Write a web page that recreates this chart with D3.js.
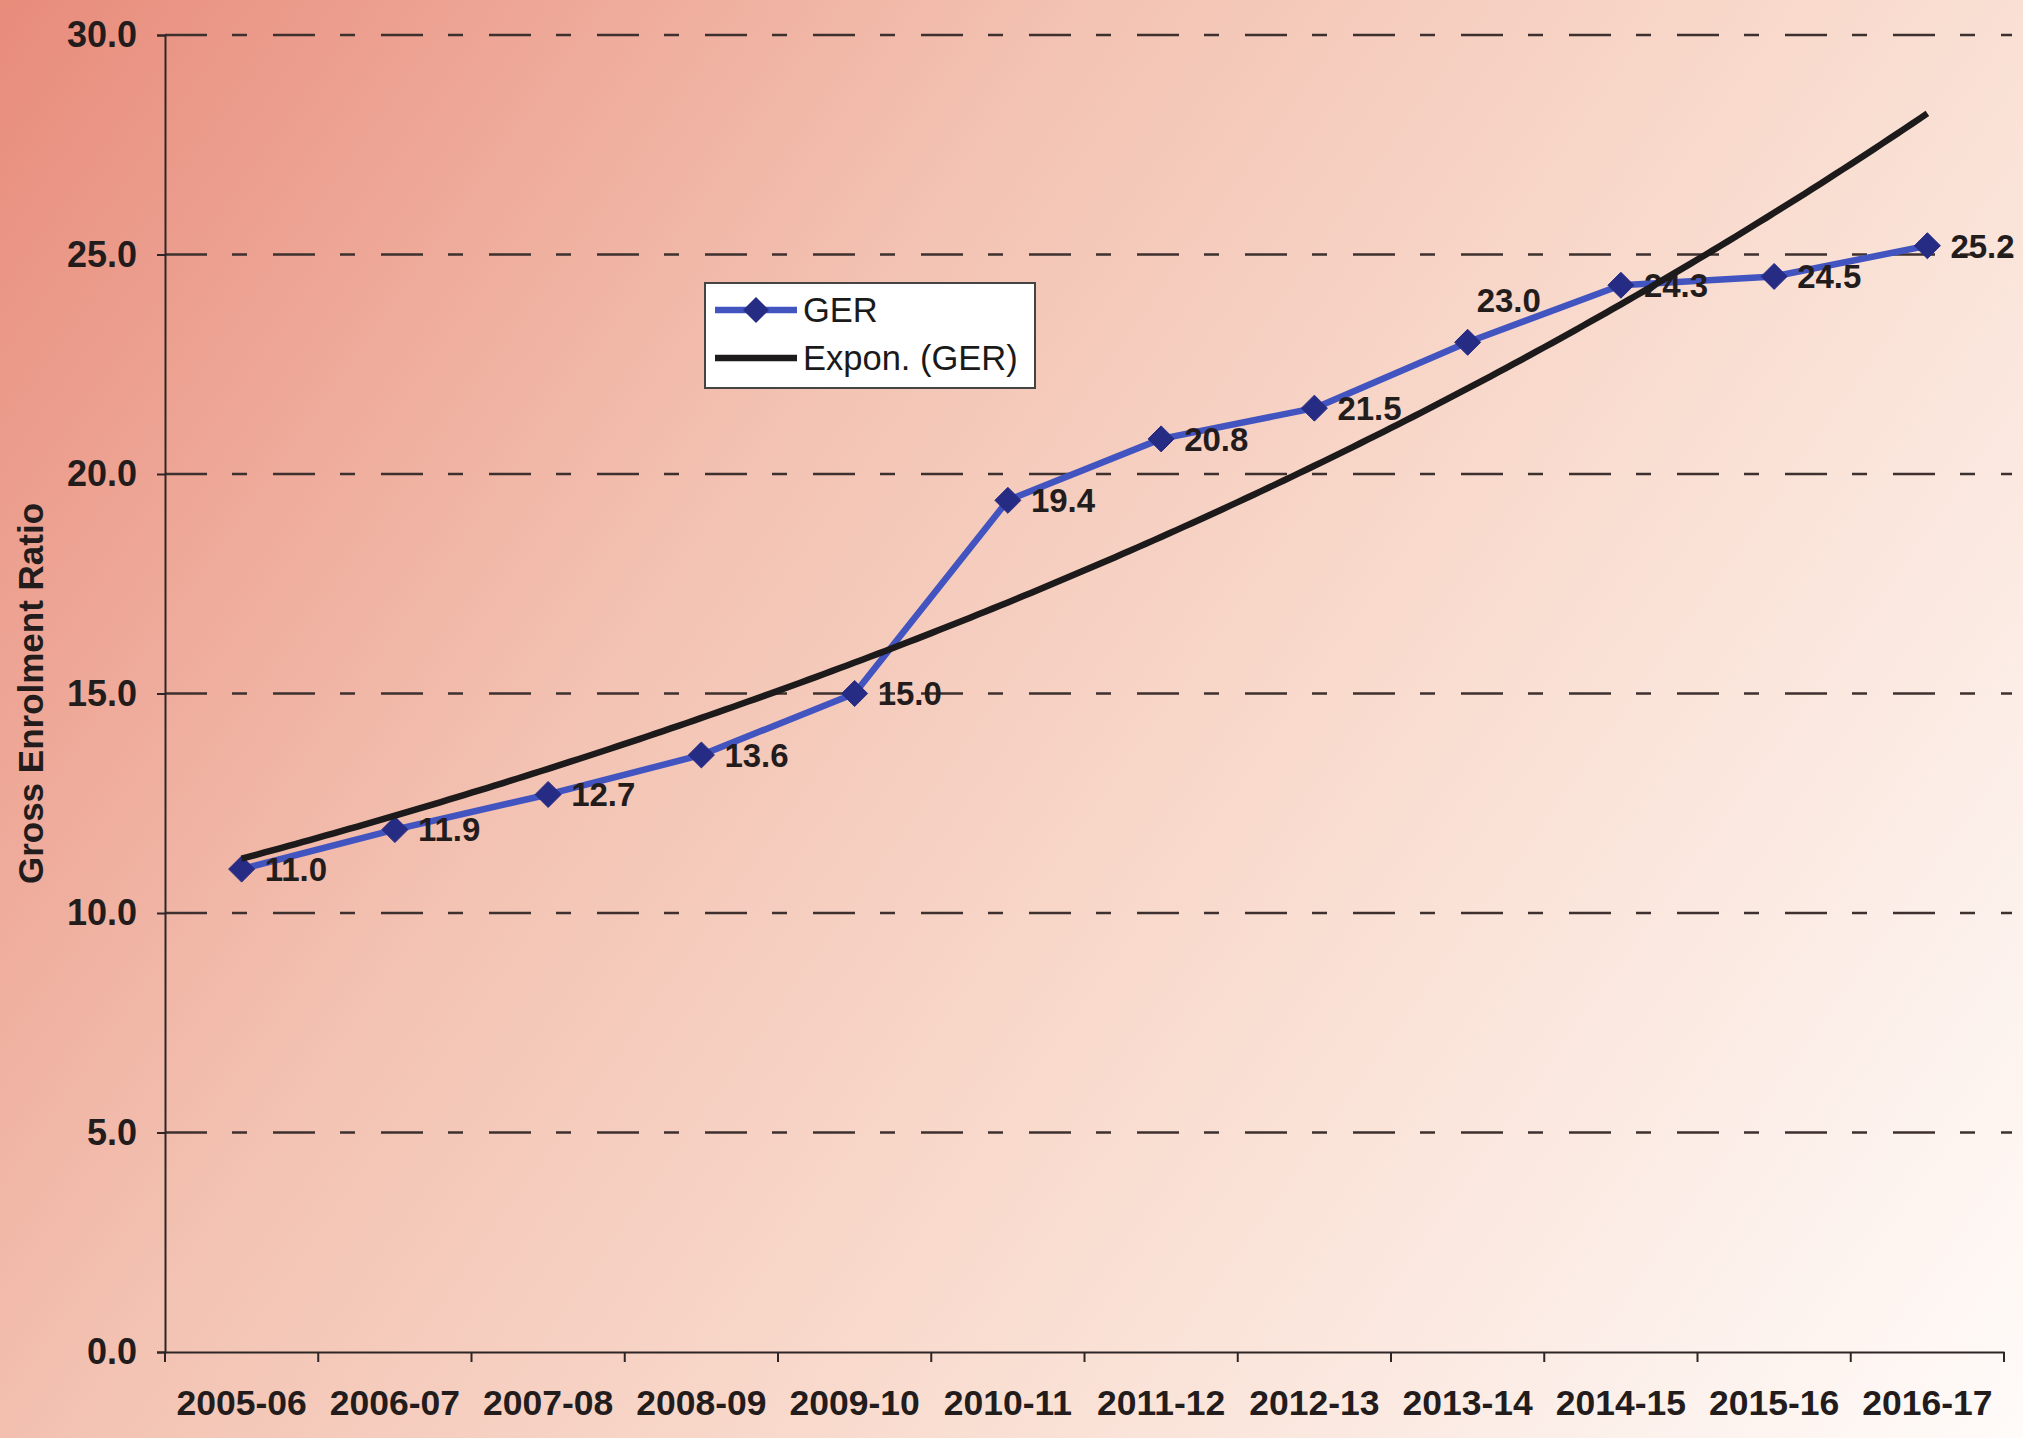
<!DOCTYPE html>
<html>
<head>
<meta charset="utf-8">
<script src="https://cdn.jsdelivr.net/npm/d3@7"></script>
<style>
  html, body { margin: 0; padding: 0; background: #fff; }
  svg { display: block; }
  text { font-family: "Liberation Sans", Arial, sans-serif; }
</style>
</head>
<body>
<svg id="chart" width="2023" height="1438"></svg>
<script>
// ---------- data ----------
const categories = ["2005-06","2006-07","2007-08","2008-09","2009-10","2010-11","2011-12","2012-13","2013-14","2014-15","2015-16","2016-17"];
const gerValues = [11.0, 11.9, 12.7, 13.6, 15.0, 19.4, 20.8, 21.5, 23.0, 24.3, 24.5, 25.2];
const yTickValues = [0, 5, 10, 15, 20, 25, 30];
const seriesName = "GER";
const trendName = "Expon. (GER)";
const yAxisTitle = "Gross Enrolment Ratio";

(function () {
// ---------- layout ----------
const W = 2023, H = 1438;
const mLeft = 165, mRight = 2004, mTop = 35, mBottom = 1352;

const svg = d3.select("#chart");

// background gradient
const defs = svg.append("defs");
const grad = defs.append("linearGradient")
  .attr("id", "bg").attr("gradientUnits", "userSpaceOnUse")
  .attr("x1", 0).attr("y1", 0).attr("x2", W).attr("y2", H);
[[0, "#e88c7c"], [0.18, "#eea797"], [0.36, "#f3c3b3"], [0.62, "#f9dccf"], [0.85, "#fcefe9"], [1, "#fffbf9"]]
  .forEach(([o, c]) => grad.append("stop").attr("offset", o).attr("stop-color", c));
svg.append("rect").attr("width", W).attr("height", H).attr("fill", "url(#bg)");

const x = d3.scaleBand().domain(categories).range([mLeft, mRight]).padding(0);
const y = d3.scaleLinear().domain([0, 30]).range([mBottom, mTop]);
const cx = d => x(d) + x.bandwidth() / 2;

// gridlines (dash-dot pattern)
svg.append("g").selectAll("line")
  .data(yTickValues.filter(v => v > 0))
  .join("line")
  .attr("x1", mLeft).attr("x2", 2012)
  .attr("y1", d => y(d)).attr("y2", d => y(d))
  .attr("stroke", "#3e302e").attr("stroke-width", 2.3)
  .attr("stroke-dasharray", "42,25,15,26");

// y axis
const yAxis = svg.append("g")
  .attr("transform", `translate(${mLeft},0)`)
  .call(d3.axisLeft(y).tickValues(yTickValues).tickSize(8).tickPadding(20).tickFormat(d3.format(".1f")));
yAxis.select(".domain").attr("stroke", "#2e2626").attr("stroke-width", 2);
yAxis.selectAll(".tick line").attr("stroke", "#2e2626").attr("stroke-width", 2);
yAxis.selectAll(".tick text")
  .attr("font-size", 36).attr("font-weight", "bold").attr("fill", "#231c1c")
  .attr("font-family", "Liberation Sans, Arial, sans-serif");

// x axis
const xAxis = svg.append("g")
  .attr("transform", `translate(0,${mBottom})`)
  .call(d3.axisBottom(x).tickSize(0).tickPadding(38));
xAxis.select(".domain").attr("stroke", "#2e2626").attr("stroke-width", 2);
xAxis.selectAll(".tick text")
  .attr("font-size", 35.5).attr("font-weight", "bold").attr("fill", "#231c1c")
  .attr("font-family", "Liberation Sans, Arial, sans-serif");
// boundary tick marks
svg.append("g").selectAll("line")
  .data(d3.range(categories.length + 1))
  .join("line")
  .attr("x1", i => mLeft + i * x.step()).attr("x2", i => mLeft + i * x.step())
  .attr("y1", mBottom).attr("y2", mBottom + 10)
  .attr("stroke", "#2e2626").attr("stroke-width", 2);

// y axis title
svg.append("text")
  .attr("transform", `translate(43,${(mTop + mBottom) / 2}) rotate(-90)`)
  .attr("text-anchor", "middle")
  .attr("font-size", 35).attr("font-weight", "bold").attr("fill", "#231c1c")
  .text(yAxisTitle);

// GER series
const pts = categories.map((c, i) => ({ c, v: gerValues[i] }));
const line = d3.line().x(d => cx(d.c)).y(d => y(d.v));
svg.append("path").datum(pts)
  .attr("d", line).attr("fill", "none")
  .attr("stroke", "#4254c0").attr("stroke-width", 6.5).attr("stroke-linejoin", "round");

const diamond = "M0,-13L13,0L0,13L-13,0Z";
svg.append("g").selectAll("path")
  .data(pts).join("path")
  .attr("d", diamond)
  .attr("transform", d => `translate(${cx(d.c)},${y(d.v)})`)
  .attr("fill", "#262c84").attr("stroke", "#262c84").attr("stroke-width", 1);

// data labels
const fmt = d3.format(".1f");
svg.append("g").selectAll("text")
  .data(pts).join("text")
  .attr("x", d => cx(d.c) + (d.c === "2013-14" ? 9 : 23))
  .attr("y", d => y(d.v) + (d.c === "2013-14" ? -42 : 0))
  .attr("dy", "0.36em")
  .attr("font-size", 33).attr("font-weight", "bold").attr("fill", "#231c1c")
  .text(d => fmt(d.v));

// exponential trendline: least-squares fit of ln(GER) against category index (1..n)
const n = gerValues.length;
const xs = d3.range(1, n + 1);
const lns = gerValues.map(v => Math.log(v));
const mx = d3.mean(xs), my = d3.mean(lns);
const b = d3.sum(xs, (xi, i) => (xi - mx) * (lns[i] - my)) / d3.sum(xs, xi => (xi - mx) ** 2);
const a = Math.exp(my - b * mx);
const trendX = d3.scaleLinear().domain([1, n]).range([cx(categories[0]), cx(categories[n - 1])]);
const trendPts = d3.range(1, n + 0.001, 0.05).map(t => [trendX(t), y(a * Math.exp(b * t))]);
svg.append("path").datum(trendPts)
  .attr("d", d3.line()).attr("fill", "none")
  .attr("stroke", "#1c1a1a").attr("stroke-width", 6.5).attr("stroke-linecap", "butt");

// legend
const lg = svg.append("g");
lg.append("rect").attr("x", 705).attr("y", 283).attr("width", 330).attr("height", 105)
  .attr("fill", "#ffffff").attr("stroke", "#444").attr("stroke-width", 2);
lg.append("line").attr("x1", 715).attr("x2", 797).attr("y1", 310).attr("y2", 310)
  .attr("stroke", "#4254c0").attr("stroke-width", 6.5);
lg.append("path").attr("d", diamond).attr("transform", "translate(756,310)").attr("fill", "#262c84");
lg.append("text").attr("x", 803).attr("y", 310).attr("dy", "0.36em")
  .attr("font-size", 34.5).attr("fill", "#1a1a1a").text(seriesName);
lg.append("line").attr("x1", 715).attr("x2", 797).attr("y1", 358).attr("y2", 358)
  .attr("stroke", "#1c1a1a").attr("stroke-width", 6.5);
lg.append("text").attr("x", 803).attr("y", 358).attr("dy", "0.36em")
  .attr("font-size", 34.5).attr("fill", "#1a1a1a").text(trendName);
})();
</script>
</body>
</html>
